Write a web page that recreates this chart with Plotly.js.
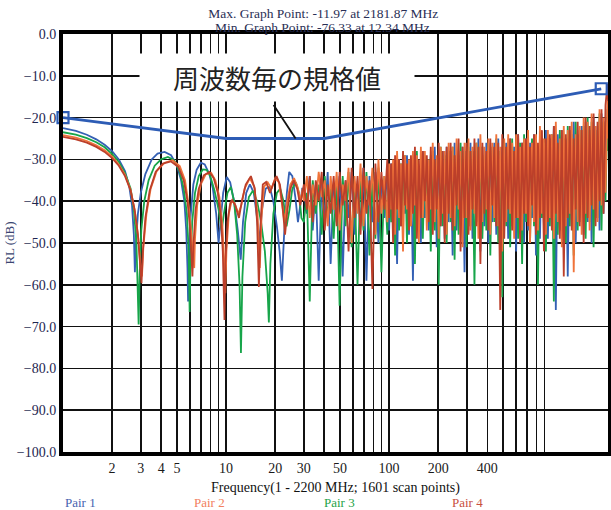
<!DOCTYPE html>
<html><head><meta charset="utf-8">
<script src="https://cdn.plot.ly/plotly-3.0.1.min.js"></script>
<style>html,body{margin:0;padding:0;background:#fff}#chart{width:611px;height:510px}</style>
</head><body><div id="chart"></div>
<script>
// ---- Spec limit (周波数毎の規格値) ----
const specFreq = [1, 2, 4, 6, 10, 40, 100, 200, 400, 1000, 2000];
const specDb   = [-20, -21.5, -23, -23.9, -25, -25, -22.2, -20.1, -18, -15.2, -13.1];

// ---- Low-frequency parts (MHz, dB) ----
const pair1LowF  = [1,1.2,1.4,1.6,1.8,2,2.2,2.4,2.55,2.65,2.72,2.76,2.8,2.88,3,3.2,3.5,3.8,4.2,4.6,5,5.3,5.55,5.7,5.8,5.85,5.92,6.05,6.3,6.6,7,7.4,7.9,8.3,8.7,9.0,9.2,9.6,10.1,10.6,11.2,11.8,12.3,12.7,13.3,14,14.8,15.5,16,16.6,17.5,18.5,19.5,20.5,21.3,22,22.7,23.6,24.4,25.5,26.6,27.6,28.5,29.3];
const pair1LowDb = [-22.5,-23.2,-24.1,-25.2,-26.5,-28,-30,-32.8,-36.5,-41,-48,-57,-50,-43,-38,-33.5,-30,-28.6,-28.2,-29,-31.5,-35,-40,-47,-56,-64,-53,-44,-36,-32.5,-30.8,-31.2,-33.5,-37,-43,-50,-46,-38,-34.2,-35.5,-40,-47,-54,-45,-38,-36,-38,-44,-50,-42,-37,-36.5,-40,-46,-52,-59,-48,-38,-33,-34,-39,-45,-41,-37];

const pair2LowF  = [1,1.2,1.4,1.6,1.8,2,2.2,2.4,2.6,2.76,2.9,2.99,3.05,3.11,3.25,3.45,3.75,4.2,4.7,5.2,5.6,5.9,6.1,6.3,6.38,6.45,6.65,7,7.5,8.1,8.6,9.1,9.5,9.8,9.9,10.05,10.4,10.8,11.3,11.9,12.4,13,14,14.9,15.6,16.1,16.5,17.1,18,19,20,21.1,22,22.8,23.7,24.8,26.1,27.4,28.7,29.5];
const pair2LowDb = [-24.2,-24.8,-25.6,-26.6,-27.8,-29.3,-31.2,-33.7,-37.3,-42.5,-49,-56,-58,-51,-43,-37,-32.8,-30.8,-30.2,-31.6,-35,-41,-47,-55,-56,-49,-41,-36,-33.6,-33.2,-35,-39,-46,-56,-62,-52,-43,-40,-40.5,-43,-41,-37,-34.5,-36.5,-43,-56,-44,-36.5,-35.5,-37,-34.5,-35.5,-40,-45,-40,-36,-34.5,-36.5,-40,-37];

const pair3LowF  = [1,1.2,1.4,1.6,1.8,2,2.2,2.4,2.6,2.72,2.82,2.88,2.91,2.95,3.02,3.15,3.35,3.65,4,4.4,4.8,5.2,5.5,5.75,5.9,5.98,6.05,6.2,6.45,6.8,7.2,7.6,8,8.5,9,9.4,9.7,10.2,10.7,11.2,11.7,12.1,12.34,12.6,13.1,13.8,14.6,15.5,16.4,17.3,18,18.3,18.7,19.5,20.5,21.5,22.5,23.5,24.5,25.5,26.8,28,29];
const pair3LowDb = [-23.5,-24.1,-24.9,-25.9,-27.1,-28.7,-30.6,-33.3,-37,-42,-50,-60,-69.5,-58,-47,-40,-35,-31.5,-30,-29.4,-30.2,-33,-37,-43,-52,-66.5,-55,-45,-38,-34,-32.4,-32.5,-34,-37.5,-42,-47,-43,-38,-36.6,-40,-48,-60,-76.3,-58,-45,-39,-37.5,-40,-45,-52,-62,-69,-55,-43,-38,-37,-40,-46,-42,-37,-35.5,-38,-44];

const pair4LowF  = [1,1.2,1.4,1.6,1.8,2,2.2,2.4,2.6,2.75,2.88,2.97,3.03,3.09,3.2,3.4,3.7,4.1,4.6,5.1,5.5,5.8,6.0,6.15,6.22,6.3,6.5,6.8,7.3,7.9,8.4,8.9,9.3,9.55,9.7,9.78,9.9,10.2,10.6,10.9,11.4,12,12.5,13.2,14.2,15,15.5,15.9,16.3,16.8,17.6,18.6,19.4,20.4,21.4,22.2,23,23.8,24.8,26,27.3,28.5,29.4];
const pair4LowDb = [-24.6,-25.2,-26,-27,-28.2,-29.7,-31.5,-34,-37.5,-42,-48,-55,-59.6,-52,-44,-37.5,-33,-31,-30.5,-31.8,-35,-40,-46,-54,-58,-51,-42,-37,-33.8,-33,-34.5,-38,-44,-52,-60,-68.4,-55,-45,-40.5,-39.7,-41,-44,-40,-36,-34,-37,-45,-60.5,-45,-36,-35.4,-38,-36,-34,-36,-41,-48,-42,-37,-35,-37,-41,-38];

// ---- High-frequency scan points (MHz) shared by all pairs ----
const hiFreq = [30,31.3,32.6,34,35.5,37,38.6,40.3,42,43.8,45.7,47.7,49.7,51.9,54.1,56.4,58.9,61.4,64,66.8,69.6,72.6,75.8,79,82.4,86,89.7,93.5,97.5,
100,102.9,105.8,108.8,111.9,115.1,118.3,121.7,125.2,128.7,132.4,136.1,140,144,148,152.2,156.6,161,165.6,170.3,
175.1,180.1,185.2,190.5,195.9,201.5,207.2,213.1,219.2,225.4,231.8,238.4,245.2,252.1,259.3,266.7,274.3,282.1,290.1,298.3,
306.8,315.5,324.5,333.7,343.2,352.9,363,373.3,383.9,394.8,406,417.6,429.5,441.7,454.2,467.1,480.4,494.1,508.1,522.6,
537.4,552.7,568.4,584.6,601.2,618.3,635.9,654,672.6,691.7,711.4,731.6,752.4,773.8,795.8,818.4,841.7,865.6,890.2,915.5,
941.5,968.3,995.8,1024,1053,1083,1114,1146,1178,1212,1246,1282,1318,1356,1394,1434,1475,1517,1560,1604,
1650,1697,1745,1795,1846,1898,1952,2008,2065,2124,2184,2200];

const pair1HiDb = [-37,-43,-34,-47,-36,-59,-35,-44,-33,-55,
-36,-45,-34,-58,-35,-44,-33,-48,-36,-46,
-32,-59,-34,-45,-33,-50,-35,-44,-32,
-47,-31,-44,-33,-55,-30,-46,-32,-43,-29,
-48,-31,-59,-29,-45,-32,-50,-28,-44,-30,
-47,-29,-43,-27,-51,-30,-46,-28,-49,-27,
-45,-28,-53,-26,-47,-29,-44,-27,-57,-28,
-46,-26,-49,-28,-44,-25,-52,-27,-46,-26,
-50,-28,-45,-26,-48,-25,-55,-27,-44,-26,
-49,-25,-46,-27,-52,-24,-45,-26,-50,-25,
-47,-26,-44,-24,-53,-27,-49,-25,-46,-23,
-49,-25,-45,-22,-66,-24,-47,-23,-44,-25,
-58,-23,-46,-21,-50,-24,-45,-22,-48,-21,
-45,-23,-50,-20,-44,-22,-47,-19,-43,-21,
-20,-22];

const pair2HiDb = [-40,-34,-44,-36,-41,-33,-39,-35,-46,-34,
-42,-33,-47,-36,-40,-32,-50,-34,-43,-31,
-46,-34,-41,-32,-48,-30,-43,-34,-45,
-31,-42,-30,-48,-28,-44,-31,-52,-29,-42,
-30,-46,-28,-41,-29,-50,-27,-44,-28,-47,
-30,-42,-26,-45,-29,-49,-27,-43,-28,-48,
-26,-44,-27,-46,-25,-42,-28,-51,-26,-44,
-25,-47,-27,-43,-26,-49,-24,-45,-27,-42,
-25,-48,-26,-44,-24,-46,-27,-52,-25,-45,
-24,-43,-26,-49,-24,-44,-27,-47,-25,-43,
-23,-50,-26,-45,-24,-47,-22,-43,-25,-48,
-23,-44,-24,-49,-21,-45,-25,-51,-22,-46,
-23,-43,-21,-57,-24,-45,-22,-48,-20,-43,
-21,-47,-19,-42,-22,-45,-18,-41,-20,-38,
-16,-25];

const pair3HiDb = [-45,-38,-64,-35,-43,-36,-48,-34,-44,-37,
-49,-35,-65,-34,-46,-33,-51,-36,-60,-34,
-47,-33,-53,-35,-49,-32,-57,-34,-48,
-32,-45,-31,-53,-30,-47,-31,-44,-29,-50,
-32,-46,-30,-55,-28,-45,-31,-49,-29,-44,
-30,-52,-28,-47,-30,-60,-27,-46,-29,-50,
-28,-45,-27,-54,-29,-48,-26,-44,-28,-51,
-27,-46,-28,-60,-26,-45,-27,-49,-29,-47,
-26,-53,-27,-45,-25,-50,-28,-63,-26,-46,
-27,-51,-25,-44,-28,-49,-26,-55,-24,-45,
-27,-50,-25,-46,-27,-60,-24,-44,-26,-52,
-25,-46,-24,-64,-26,-48,-23,-45,-25,-50,
-22,-46,-24,-53,-21,-47,-23,-44,-22,-49,
-20,-45,-21,-51,-23,-44,-19,-47,-21,-40,
-18,-28];

const pair4HiDb = [-36,-42,-34,-45,-35,-40,-33,-47,-36,-43,
-34,-46,-33,-41,-35,-52,-32,-44,-34,-48,
-32,-43,-35,-61,-31,-45,-33,-42,-30,
-44,-31,-50,-29,-42,-30,-46,-28,-41,-31,
-47,-29,-43,-27,-49,-30,-44,-28,-40,-29,
-45,-27,-48,-30,-42,-26,-46,-28,-50,-27,
-43,-26,-47,-29,-41,-25,-52,-27,-44,-26,
-48,-28,-42,-25,-46,-27,-55,-26,-43,-28,
-47,-25,-41,-27,-46,-26,-66,-24,-49,-27,
-42,-25,-47,-28,-44,-24,-50,-26,-43,-25,
-46,-27,-41,-24,-48,-26,-44,-23,-52,-25,
-45,-24,-47,-22,-43,-26,-49,-23,-58,-24,
-44,-22,-47,-25,-42,-21,-46,-23,-50,-20,
-44,-22,-41,-19,-46,-21,-40,-18,-43,-17,
-11.97,-16];

// ---- Tick values / labels ----
const xTickVals = [2,3,4,5,10,20,30,50,100,200,400];
const xTickText = ['2','3','4','5','10','20','30','50','100','200','400'];
const xMinorVals = [6,7,8,9,40,60,70,80,90,300,500,600,700,800,900];

const pairNames  = ['Pair 1','Pair 2','Pair 3','Pair 4'];
const pairColors = ['#3460b4','#f0733a','#17a54a','#bc3f2a'];
const legendColors = ['#4863b0','#f28060','#25a347','#c8503e'];

const titleLine1 = 'Max. Graph Point: -11.97 at 2181.87 MHz';
const titleLine2 = 'Min. Graph Point: -76.33 at 12.34 MHz';

function series(lowF, lowDb, hiDb, idx){
  return {
    type:'scatter', mode:'lines', name: pairNames[idx],
    x: lowF.concat(hiFreq), y: lowDb.concat(hiDb),
    line:{color: pairColors[idx], width:1.8}, showlegend:false
  };
}

const traces = [
  series(pair1LowF, pair1LowDb, pair1HiDb, 0),
  series(pair3LowF, pair3LowDb, pair3HiDb, 2),
  series(pair2LowF, pair2LowDb, pair2HiDb, 1),
  series(pair4LowF, pair4LowDb, pair4HiDb, 3),
  {type:'scatter', mode:'lines', x: specFreq, y: specDb, line:{color:'#2d5cb5', width:2.8}, showlegend:false},
  {type:'scatter', mode:'markers', x:[specFreq[0], specFreq[specFreq.length-1]], y:[specDb[0], specDb[specDb.length-1]],
   marker:{symbol:'square-open', size:11, color:'#2d5cb5', line:{width:2.2, color:'#2d5cb5'}}, cliponaxis:false, showlegend:false}
];

const serif = 'Liberation Serif, Times New Roman, serif';
const annotations = [
  {xref:'paper', yref:'paper', x:0.477, y:1.0167, xanchor:'center', yanchor:'middle', text:titleLine2, showarrow:false,
   font:{family:serif, size:13.5, color:'#2a2f55'}},
  {xref:'x', yref:'y', x: Math.log10(20.5), y:-10.4, text:'周波数毎の規格値', showarrow:false,
   font:{family:'Noto Sans CJK JP, sans-serif', size:26, color:'#222'}, bgcolor:'#ffffff', width:272, height:45},
  {xref:'x', yref:'y', x: Math.log10(26.7), y:-25, text:' ', showarrow:true, arrowhead:0, arrowwidth:1.8,
   arrowcolor:'#111', ax:-25, ay:-38, standoff:0}
];
const legendX = [0, 0.2367, 0.475, 0.71];
pairNames.forEach((n,i)=>{
  annotations.push({xref:'paper', yref:'paper', x: legendX[i], y:-0.12, xanchor:'left', yanchor:'middle',
    text:n, showarrow:false, font:{family:serif, size:13, color: legendColors[i]}});
});

const layout = {
  width:611, height:510,
  margin:{l:63, r:3, t:34, b:58},
  paper_bgcolor:'#fff', plot_bgcolor:'#fff',
  title:{text:titleLine1,
    x:0.529, xref:'container', xanchor:'center', y:0.9745, yref:'container', yanchor:'middle',
    font:{family:serif, size:13.5, color:'#2a2f55'}},
  xaxis:{type:'log', range:[0, Math.log10(2200)], tickmode:'array', tickvals:xTickVals, ticktext:xTickText,
    showgrid:true, gridcolor:'#111', gridwidth:1.5, ticks:'',
    minor:{tickmode:'array', tickvals:xMinorVals, showgrid:true, gridcolor:'#111', gridwidth:1.5, ticks:''},
    showline:true, linecolor:'#000', linewidth:4, mirror:true, zeroline:false,
    tickfont:{family:serif, size:14, color:'#1a1a1a'},
    title:{text:'Frequency(1 - 2200 MHz; 1601 scan points)', font:{family:serif, size:14, color:'#111'}, standoff:8}},
  yaxis:{range:[-100,0], dtick:10, tick0:0, tickformat:'.1f', showgrid:true, gridcolor:'#111', gridwidth:1.5,
    ticks:'', showline:true, linecolor:'#000', linewidth:4, mirror:true, zeroline:false,
    tickfont:{family:serif, size:14, color:'#1e2650'},
    title:{text:'RL (dB)', font:{family:serif, size:13, color:'#3a4570'}, standoff:0}},
  annotations: annotations,
  hovermode:false
};

Plotly.newPlot('chart', traces, layout, {displayModeBar:false, staticPlot:true});
</script></body></html>
